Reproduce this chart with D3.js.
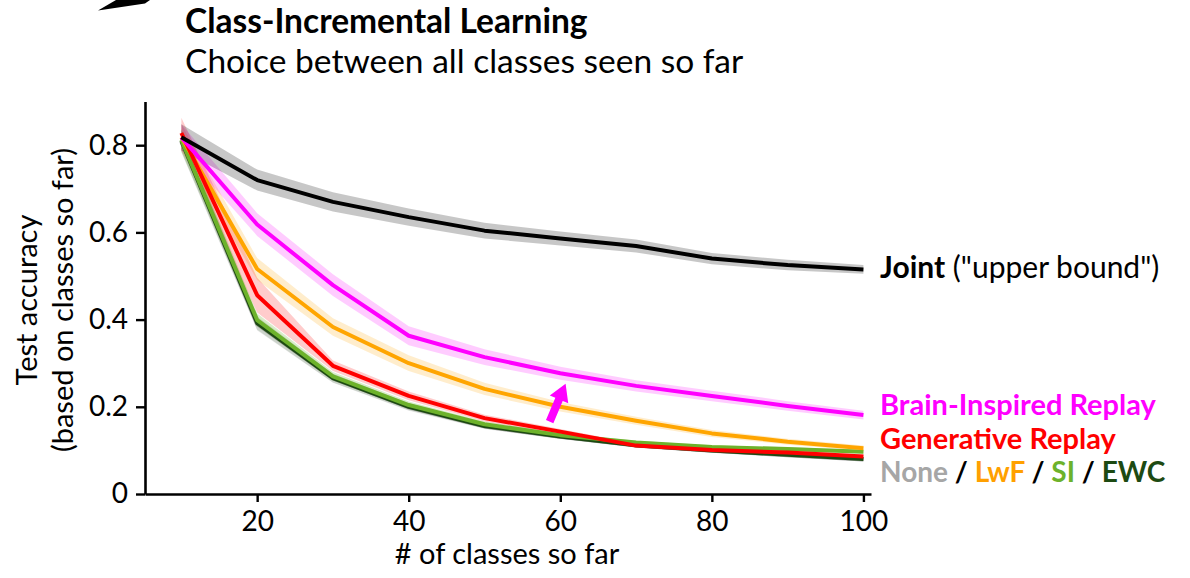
<!DOCTYPE html>
<html>
<head>
<meta charset="utf-8">
<script src="https://cdn.jsdelivr.net/npm/d3@7"></script>
<style>
  html, body { margin: 0; padding: 0; background: #fff; }
  svg { display: block; font-family: Lato, "Open Sans", sans-serif; }
</style>
</head>
<body>
<svg id="chart" width="1190" height="578"></svg>
<script>
// Number of classes seen so far
const classes = [10, 20, 30, 40, 50, 60, 70, 80, 90, 100];

// Mean test accuracy per method
const jointAcc = [0.818, 0.72, 0.67, 0.635, 0.604, 0.586, 0.569, 0.54, 0.525, 0.515];
const birAcc   = [0.818, 0.618, 0.479, 0.363, 0.314, 0.277, 0.248, 0.225, 0.202, 0.181];
const grAcc    = [0.828, 0.456, 0.294, 0.225, 0.174, 0.143, 0.111, 0.101, 0.095, 0.086];
const lwfAcc   = [0.818, 0.516, 0.383, 0.300, 0.241, 0.200, 0.168, 0.139, 0.120, 0.105];
const siAcc    = [0.812, 0.399, 0.270, 0.204, 0.160, 0.135, 0.118, 0.108, 0.103, 0.097];
const ewcAcc   = [0.810, 0.392, 0.266, 0.200, 0.156, 0.132, 0.112, 0.100, 0.090, 0.080];
const noneAcc  = [0.808, 0.390, 0.265, 0.199, 0.155, 0.131, 0.111, 0.099, 0.089, 0.079];

// Standard error per method (shaded bands)
const jointErr = [0.030, 0.024, 0.022, 0.020, 0.018, 0.016, 0.015, 0.013, 0.012, 0.010];
const birErr   = [0.030, 0.026, 0.025, 0.022, 0.018, 0.015, 0.013, 0.012, 0.011, 0.010];
const grErr    = [0.035, 0.040, 0.012, 0.010, 0.008, 0.006, 0.005, 0.005, 0.005, 0.005];
const lwfErr   = [0.030, 0.025, 0.020, 0.018, 0.014, 0.011, 0.009, 0.008, 0.007, 0.006];
const siErr    = [0.025, 0.015, 0.010, 0.008, 0.006, 0.005, 0.004, 0.004, 0.004, 0.004];
const ewcErr   = [0.025, 0.015, 0.010, 0.008, 0.006, 0.005, 0.004, 0.004, 0.004, 0.004];
const noneErr  = [0.025, 0.015, 0.010, 0.008, 0.006, 0.005, 0.004, 0.004, 0.004, 0.004];

// Axis ticks
const xTicks = [20, 40, 60, 80, 100];
const yTicks = [0, 0.2, 0.4, 0.6, 0.8];

// Series in drawing order (bottom to top)
const series = [
  { name: "None",  acc: noneAcc,  err: noneErr,  color: "#a0a0a0", band: 0.20 },
  { name: "EWC",   acc: ewcAcc,   err: ewcErr,   color: "#1d4a12", band: 0.15 },
  { name: "SI",    acc: siAcc,    err: siErr,    color: "#6db22b", band: 0.25 },
  { name: "LwF",   acc: lwfAcc,   err: lwfErr,   color: "#ffa500", band: 0.20 },
  { name: "GR",    acc: grAcc,    err: grErr,    color: "#ff0000", band: 0.20 },
  { name: "BI-R",  acc: birAcc,   err: birErr,   color: "#ff00ff", band: 0.20 },
  { name: "Joint", acc: jointAcc, err: jointErr, color: "#000000", band: 0.22 }
];

const svg = d3.select("#chart");

const x = d3.scaleLinear().domain([5.2, 101]).range([145, 871]);
const y = d3.scaleLinear().domain([0, 0.9]).range([494, 101.6]);

// Shaded bands
const area = d3.area()
  .x((d, i) => x(classes[i]))
  .y0(d => y(d[0]))
  .y1(d => y(d[1]));

series.forEach(s => {
  const pts = s.acc.map((v, i) => [v - s.err[i], v + s.err[i]]);
  svg.append("path")
    .datum(pts)
    .attr("d", area)
    .attr("fill", s.color)
    .attr("fill-opacity", s.band)
    .attr("stroke", "none");
});

// Mean lines
const line = d3.line()
  .x((d, i) => x(classes[i]))
  .y(d => y(d));

series.forEach(s => {
  svg.append("path")
    .datum(s.acc)
    .attr("d", line)
    .attr("fill", "none")
    .attr("stroke", s.color)
    .attr("stroke-width", 4)
    .attr("stroke-linejoin", "round");
});

// Axes
const fontAxis = 28;
const xAxis = svg.append("g")
  .attr("transform", `translate(0,${y(0)})`)
  .call(d3.axisBottom(x).tickValues(xTicks).tickSize(8).tickPadding(9).tickSizeOuter(0));
const yAxis = svg.append("g")
  .attr("transform", `translate(${x(5.2)},0)`)
  .call(d3.axisLeft(y).tickValues(yTicks).tickSize(9).tickPadding(8).tickSizeOuter(0)
    .tickFormat(d => d === 0 ? "0" : d3.format(".1f")(d)));

[xAxis, yAxis].forEach(g => {
  g.select(".domain").attr("stroke", "#000").attr("stroke-width", 2.6);
  g.selectAll(".tick line").attr("stroke", "#000").attr("stroke-width", 2.4);
  g.selectAll(".tick text")
    .attr("fill", "#000")
    .style("font-family", "Lato, sans-serif")
    .style("font-size", fontAxis + "px");
});

// Axis titles
svg.append("text")
  .attr("x", 507).attr("y", 564)
  .attr("text-anchor", "middle")
  .style("font-size", "29px")
  .text("# of classes so far");

const yTitle = svg.append("g").attr("transform", "translate(0,300) rotate(-90)");
yTitle.append("text").attr("x", 0).attr("y", 37)
  .attr("text-anchor", "middle")
  .style("font-size", "29px").text("Test accuracy");
yTitle.append("text").attr("x", 0).attr("y", 73)
  .attr("text-anchor", "middle")
  .style("font-size", "29px").text("(based on classes so far)");

// Title block
svg.append("text")
  .attr("x", 185).attr("y", 33)
  .style("font-size", "33.5px").style("font-weight", "bold")
  .text("Class-Incremental Learning");
svg.append("text")
  .attr("x", 185).attr("y", 73)
  .style("font-size", "33.5px")
  .text("Choice between all classes seen so far");

// Partial arrowhead at the top-left corner
svg.append("path")
  .attr("d", "M98,10.5 L116,0 L150,0 L145,3.5 Z")
  .attr("fill", "#000");

// Direct labels
const lx = 880;
const jl = svg.append("text").attr("x", lx).attr("y", 278).style("font-size", "30px");
jl.append("tspan").style("font-weight", "bold").text("Joint");
jl.append("tspan").text(" (\"upper bound\")");

svg.append("text").attr("x", lx).attr("y", 415)
  .style("font-size", "29px").style("font-weight", "bold")
  .attr("fill", "#ff00ff").text("Brain-Inspired Replay");

svg.append("text").attr("x", lx).attr("y", 449)
  .style("font-size", "29px").style("font-weight", "bold")
  .attr("fill", "#ff0000").text("Generative Replay");

const bl = svg.append("text").attr("x", lx).attr("y", 482)
  .style("font-size", "28px").style("font-weight", "bold");
[["None", "#a6a6a6"], [" / ", "#000"], ["LwF", "#ffa000"], [" / ", "#000"],
 ["SI", "#6db22b"], [" / ", "#000"], ["EWC", "#1d4a12"]].forEach(([t, c]) => {
  bl.append("tspan").attr("fill", c).text(t);
});

// Improvement arrow from Generative Replay towards Brain-Inspired Replay
const tail = [x(58.6), y(0.166)];
const tip = [x(60.7), y(0.253)];
const ang = Math.atan2(tip[1] - tail[1], tip[0] - tail[0]);
const headLen = 17, headW = 10, shaftW = 4;
const ux = Math.cos(ang), uy = Math.sin(ang);
const px = -uy, py = ux;
const base = [tip[0] - ux * headLen, tip[1] - uy * headLen];
const arrowPts = [
  [tail[0] + px * shaftW, tail[1] + py * shaftW],
  [base[0] + px * shaftW, base[1] + py * shaftW],
  [base[0] + px * headW, base[1] + py * headW],
  tip,
  [base[0] - px * headW, base[1] - py * headW],
  [base[0] - px * shaftW, base[1] - py * shaftW],
  [tail[0] - px * shaftW, tail[1] - py * shaftW]
];
svg.append("path")
  .attr("d", "M" + arrowPts.map(p => p.join(",")).join("L") + "Z")
  .attr("fill", "#ff00ff");
</script>
</body>
</html>
